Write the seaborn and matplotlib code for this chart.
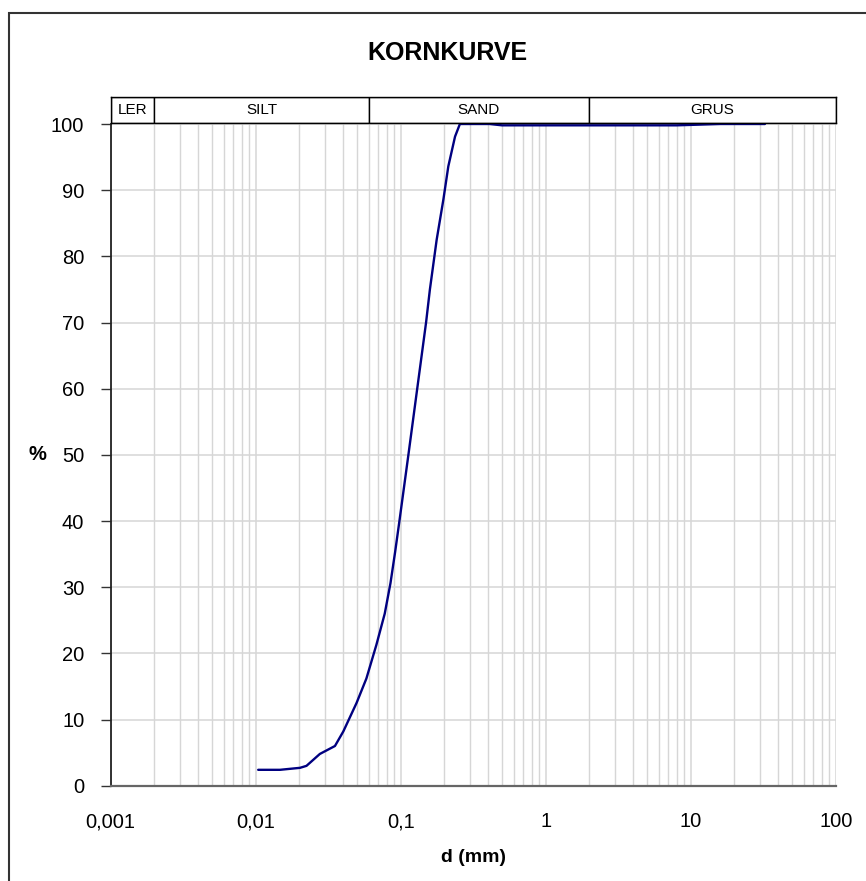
import matplotlib
matplotlib.use("Agg")
import matplotlib.pyplot as plt
import matplotlib.patches as mpatches
import numpy as np
import pandas as pd
import seaborn as sns

# Grain size distribution (sieve + hydrometer), passing percentage
diameter_mm = [0.0104, 0.0147, 0.0202, 0.0224, 0.0277, 0.0352, 0.0402, 0.0496,
               0.058, 0.068, 0.0776, 0.0850, 0.0915, 0.098, 0.113, 0.130,
               0.1496, 0.159, 0.177, 0.197, 0.213, 0.237, 0.256, 0.41,
               0.50, 2.0, 8.0, 16.0, 32.5]
passing_pct = [2.4, 2.4, 2.7, 3.0, 4.8, 6.0, 8.2, 12.5,
               16.2, 21.3, 26.0, 30.6, 35.3, 40.0, 50.0, 60.0,
               70.0, 75.0, 82.5, 88.6, 93.6, 98.1, 100.0, 100.0,
               99.8, 99.8, 99.8, 100.0, 100.0]

# Soil fractions shown in the band above the plot
zone_names = ["LER", "SILT", "SAND", "GRUS"]
zone_edges = [0.001, 0.002, 0.06, 2.0, 100.0]

x_ticks = [0.001, 0.01, 0.1, 1, 10, 100]
x_tick_labels = ["0,001", "0,01", "0,1", "1", "10", "100"]
y_ticks = list(range(0, 101, 10))

sns.set_style("white")
plt.rcParams["font.family"] = ["Liberation Sans", "DejaVu Sans"]
plt.rcParams["text.color"] = "black"
plt.rcParams["xtick.color"] = "black"
plt.rcParams["ytick.color"] = "black"
plt.rcParams["axes.labelcolor"] = "black"

W, H = 866, 881
fig = plt.figure(figsize=(W / 100, H / 100), dpi=100)

def fx(px):
    return px / W

def fy(px):
    return 1 - px / H

left, right = 110.7, 835.7
top, bottom = 124.0, 785.7
ax = fig.add_axes([fx(left), fy(bottom), fx(right - left), fy(top) - fy(bottom)])

df = pd.DataFrame({"d": diameter_mm, "pct": passing_pct})
sns.lineplot(data=df, x="d", y="pct", ax=ax, color="#000080", linewidth=1.7,
             zorder=3)

ax.set_xscale("log")
ax.set_xlim(0.001, 100)
ax.set_ylim(0, 100)
ax.set_xticks(x_ticks)
ax.set_xticklabels(x_tick_labels)
ax.set_yticks(y_ticks)
ax.xaxis.set_minor_locator(matplotlib.ticker.LogLocator(base=10, subs=np.arange(2, 10)))
ax.xaxis.set_minor_formatter(matplotlib.ticker.NullFormatter())

ax.grid(True, which="major", axis="both", color="#d6d6d6", linewidth=1.1)
ax.grid(True, which="minor", axis="x", color="#d6d6d6", linewidth=1.0)
ax.set_axisbelow(True)

ax.tick_params(axis="x", which="major", direction="out", length=6, width=1,
               color="#333333", pad=13, labelsize=14.5)
ax.tick_params(axis="x", which="minor", length=0)
ax.tick_params(axis="y", which="major", direction="out", length=7, width=1,
               color="#333333", pad=12, labelsize=14.5, left=True)

for side in ["top", "right"]:
    ax.spines[side].set_visible(False)
ax.spines["bottom"].set_color("#666666")
ax.spines["bottom"].set_linewidth(1.6)
ax.spines["left"].set_color("#222222")
ax.spines["left"].set_linewidth(1.3)

ax.set_xlabel("")
ax.set_ylabel("")
fig.text(fx((left + right) / 2), fy(857), "d (mm)", fontsize=14,
         fontweight="bold", ha="center", va="center")
fig.text(fx(37), fy(455), "%", fontsize=14.5, fontweight="bold",
         ha="center", va="center")

# Fraction band
band_top, band_bottom = 97.0, 123.0
hax = fig.add_axes([fx(left), fy(band_bottom), fx(right - left),
                    fy(band_top) - fy(band_bottom)])
hax.set_xscale("log")
hax.set_xlim(0.001, 100)
hax.set_ylim(0, 1)
for name, lo, hi in zip(zone_names, zone_edges[:-1], zone_edges[1:]):
    hax.axvspan(lo, hi, facecolor="white", edgecolor="black", linewidth=1.0)
    hax.text(np.sqrt(lo * hi), 0.5, name, ha="center", va="center", fontsize=11)
hax.set_xticks([])
hax.set_yticks([])
hax.minorticks_off()
for s in hax.spines.values():
    s.set_color("black")
    s.set_linewidth(1.0)

fig.text(fx(447), fy(53), "KORNKURVE", fontsize=18, fontweight="bold",
         ha="center", va="center")

# Page frame
frame = mpatches.Rectangle((fx(9), -0.02), 1.05, fy(13) + 0.02,
                           transform=fig.transFigure, fill=False,
                           edgecolor="#333333", linewidth=1.5)
fig.patches.append(frame)

fig.savefig("out.png", dpi=100)
